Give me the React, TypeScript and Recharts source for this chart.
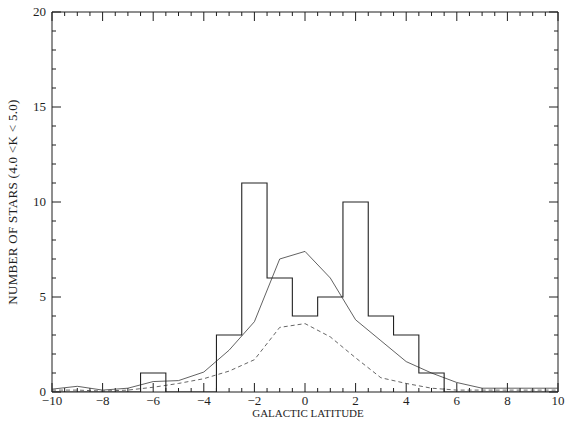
import React from "react";
import { LineChart, Line, XAxis, YAxis, ReferenceLine } from "recharts";

// galactic latitude bins (deg), one point per integer latitude
const latitude = [-10, -9, -8, -7, -6, -5, -4, -3, -2, -1, 0, 1, 2, 3, 4, 5, 6, 7, 8, 9, 10];
// observed counts (histogram)
const observed = [0, 0, 0, 0, 1, 0, 0, 3, 11, 6, 4, 5, 10, 4, 3, 1, 0, 0, 0, 0, 0];
// model, solid curve
const modelTotal = [0.15, 0.3, 0.1, 0.2, 0.55, 0.6, 1.05, 2.2, 3.7, 7.0, 7.4, 6.0, 3.8, 2.7, 1.6, 1.0, 0.5, 0.2, 0.2, 0.2, 0.2];
// model, dashed curve
const modelPart = [0.1, 0.1, 0.05, 0.1, 0.25, 0.45, 0.7, 1.1, 1.7, 3.4, 3.6, 2.9, 1.8, 0.75, 0.45, 0.2, 0.1, 0.1, 0.1, 0.1, 0.1];

const xMajor = [-10, -8, -6, -4, -2, 0, 2, 4, 6, 8, 10];
const yMajor = [0, 5, 10, 15, 20];
const xTicks = Array.from({ length: 41 }, (_, i) => -10 + i * 0.5);
const yTicks = Array.from({ length: 21 }, (_, i) => i);

const data = latitude.map((b, i) => ({
  b,
  obs: observed[i],
  total: modelTotal[i],
  part: modelPart[i],
}));

const INK = "#1e1e1e";
const FONT = "'Liberation Serif', 'Times New Roman', serif";

// plot box is 506 x 380 px for 20 x 20 units -> tick lengths in data units
const X_PX = 506 / 20;
const Y_PX = 380 / 20;
const tickLenY = (v: number) => (xMajor.includes(v) ? 9 : 4) / Y_PX; // vertical ticks on x axes
const tickLenX = (v: number) => (yMajor.includes(v) ? 9 : 4) / X_PX; // horizontal ticks on y axes

const fmt = (v: number) => (v < 0 ? "\u2212" + Math.abs(v) : String(v));

const BottomLabel = (p: any) => {
  const v = p.payload.value;
  if (!xMajor.includes(v)) return <g />;
  return (
    <text x={p.x} y={p.y + 13} textAnchor="middle" fontSize={13} fontFamily={FONT} fill={INK}>
      {fmt(v)}
    </text>
  );
};

const LeftLabel = (p: any) => {
  const v = p.payload.value;
  if (!yMajor.includes(v)) return <g />;
  return (
    <text x={p.x - 6} y={p.y + 4} textAnchor="end" fontSize={13} fontFamily={FONT} fill={INK}>
      {v}
    </text>
  );
};

const YTitle = (p: any) => {
  const cx = 12;
  const cy = 202;
  return (
    <text
      x={cx}
      y={cy}
      transform={`rotate(-90 ${cx} ${cy})`}
      textAnchor="middle"
      dominantBaseline="central"
      fontSize={13}
      letterSpacing={0.3}
      fontFamily={FONT}
      fill={INK}
    >
      NUMBER OF STARS (4.0 &lt;K &lt; 5.0)
    </text>
  );
};

const XTitle = (p: any) => {
  const vb = p.viewBox;
  return (
    <text x={vb.x + vb.width / 2 + 3} y={vb.y + 25} textAnchor="middle" fontSize={11} fontFamily={FONT} fill={INK}>
      GALACTIC LATITUDE
    </text>
  );
};

export default function App() {
  return (
    <div style={{ position: "absolute", left: 0, top: 0, background: "#fff" }}>
      <LineChart width={570} height={424} data={data} margin={{ top: 12, right: 12, left: 0, bottom: 0 }}>
        <XAxis
          dataKey="b"
          type="number"
          domain={[-10, 10]}
          ticks={xTicks}
          interval={0}
          allowDataOverflow
          height={32}
          tickSize={0}
          tickMargin={0}
          tickLine={false}
          axisLine={{ stroke: INK, strokeWidth: 1 }}
          tick={BottomLabel}
          label={{ content: XTitle }}
        />
        <YAxis
          type="number"
          domain={[0, 20]}
          ticks={yTicks}
          interval={0}
          allowDataOverflow
          width={52}
          tickSize={0}
          tickMargin={0}
          tickLine={false}
          axisLine={{ stroke: INK, strokeWidth: 1 }}
          tick={LeftLabel}
          label={{ content: YTitle }}
        />
        {/* frame, top and right */}
        <ReferenceLine y={20} stroke={INK} strokeWidth={1} />
        <ReferenceLine x={10} stroke={INK} strokeWidth={1} />
        {/* inward ticks on all four sides */}
        {xTicks.map((t) => (
          <ReferenceLine key={"b" + t} segment={[{ x: t, y: 0 }, { x: t, y: tickLenY(t) }]} stroke={INK} strokeWidth={1} />
        ))}
        {xTicks.map((t) => (
          <ReferenceLine key={"t" + t} segment={[{ x: t, y: 20 }, { x: t, y: 20 - tickLenY(t) }]} stroke={INK} strokeWidth={1} />
        ))}
        {yTicks.map((t) => (
          <ReferenceLine key={"l" + t} segment={[{ x: -10, y: t }, { x: -10 + tickLenX(t), y: t }]} stroke={INK} strokeWidth={1} />
        ))}
        {yTicks.map((t) => (
          <ReferenceLine key={"r" + t} segment={[{ x: 10, y: t }, { x: 10 - tickLenX(t), y: t }]} stroke={INK} strokeWidth={1} />
        ))}
        <Line type="linear" dataKey="part" stroke="#555" strokeWidth={0.9} strokeDasharray="4 3" dot={false} isAnimationActive={false} />
        <Line type="linear" dataKey="total" stroke="#3a3a3a" strokeWidth={0.8} dot={false} isAnimationActive={false} />
        <Line type="step" dataKey="obs" stroke="#222" strokeWidth={1.1} dot={false} isAnimationActive={false} />
      </LineChart>
    </div>
  );
}
